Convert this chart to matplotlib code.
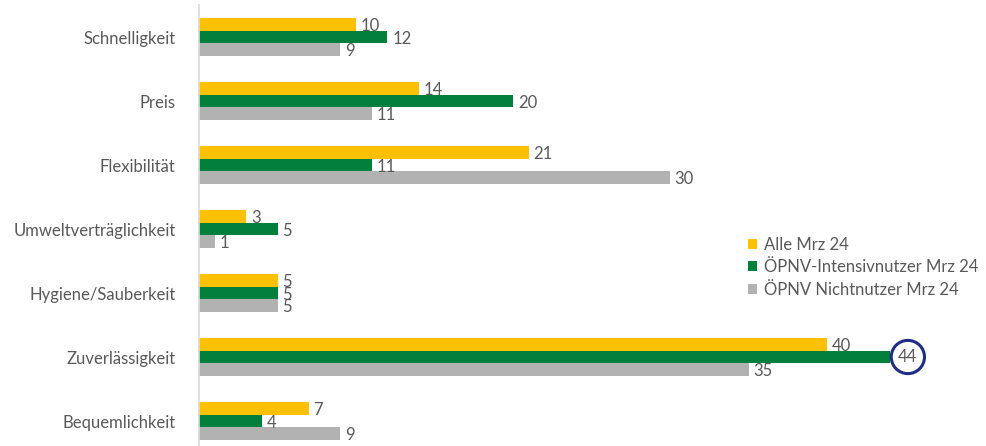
import numpy as np
import matplotlib.pyplot as plt

categories = ["Schnelligkeit", "Preis", "Flexibilität", "Umweltverträglichkeit",
              "Hygiene/Sauberkeit", "Zuverlässigkeit", "Bequemlichkeit"]
alle = [10, 14, 21, 3, 5, 40, 7]
intensiv = [12, 20, 11, 5, 5, 44, 4]
nicht = [9, 11, 30, 1, 5, 35, 9]
series_names = ["Alle Mrz 24", "ÖPNV-Intensivnutzer Mrz 24", "ÖPNV Nichtnutzer Mrz 24"]
colors = ["#FFC000", "#00803A", "#B2B2B2"]
highlight = (5, 1)  # Zuverlässigkeit, Intensivnutzer

plt.rcParams['font.family'] = ['Lato', 'DejaVu Sans']
txt = "#595959"
fs = 12

fig = plt.figure(figsize=(9.86, 4.46), dpi=100)
ax = fig.add_axes([199 / 986, -7 / 446, 785 / 986, 448 / 446])

y = np.arange(len(categories))
h = 0.196
for i, (vals, col, name) in enumerate(zip([alle, intensiv, nicht], colors, series_names)):
    pos = y + (i - 1) * h
    ax.barh(pos, vals, height=h, color=col, label=name)
    for j, (p, v) in enumerate(zip(pos, vals)):
        if (j, i) == highlight:
            ax.text(v + 1.15, p, str(v), va='center', ha='center', fontsize=fs, color=txt,
                    bbox=dict(boxstyle='circle,pad=0.42', fc='white', ec='#1F2D86', lw=2.2))
        else:
            ax.text(v + 0.3, p + 0.03, str(v), va='center', ha='left', fontsize=fs, color=txt)

ax.set_ylim(len(categories) - 0.5, -0.5)
ax.set_xlim(0, 50)
ax.set_yticks(y)
ax.set_yticklabels(categories, fontsize=fs, color=txt)
ax.tick_params(axis='y', length=0, pad=17)
ax.set_xticks([])
for s in ['top', 'right', 'bottom']:
    ax.spines[s].set_visible(False)
ax.spines['left'].set_color('#D9D9D9')
ax.spines['left'].set_linewidth(1.2)

leg = ax.legend(loc='upper left', bbox_to_anchor=(542 / 785, (446 + 7 - 230) / 448),
                frameon=False, fontsize=fs, handlelength=0.55, handleheight=0.55,
                handletextpad=0.4, labelspacing=0.4, borderaxespad=0)
for t in leg.get_texts():
    t.set_color(txt)

fig.savefig("out.png", dpi=100)
